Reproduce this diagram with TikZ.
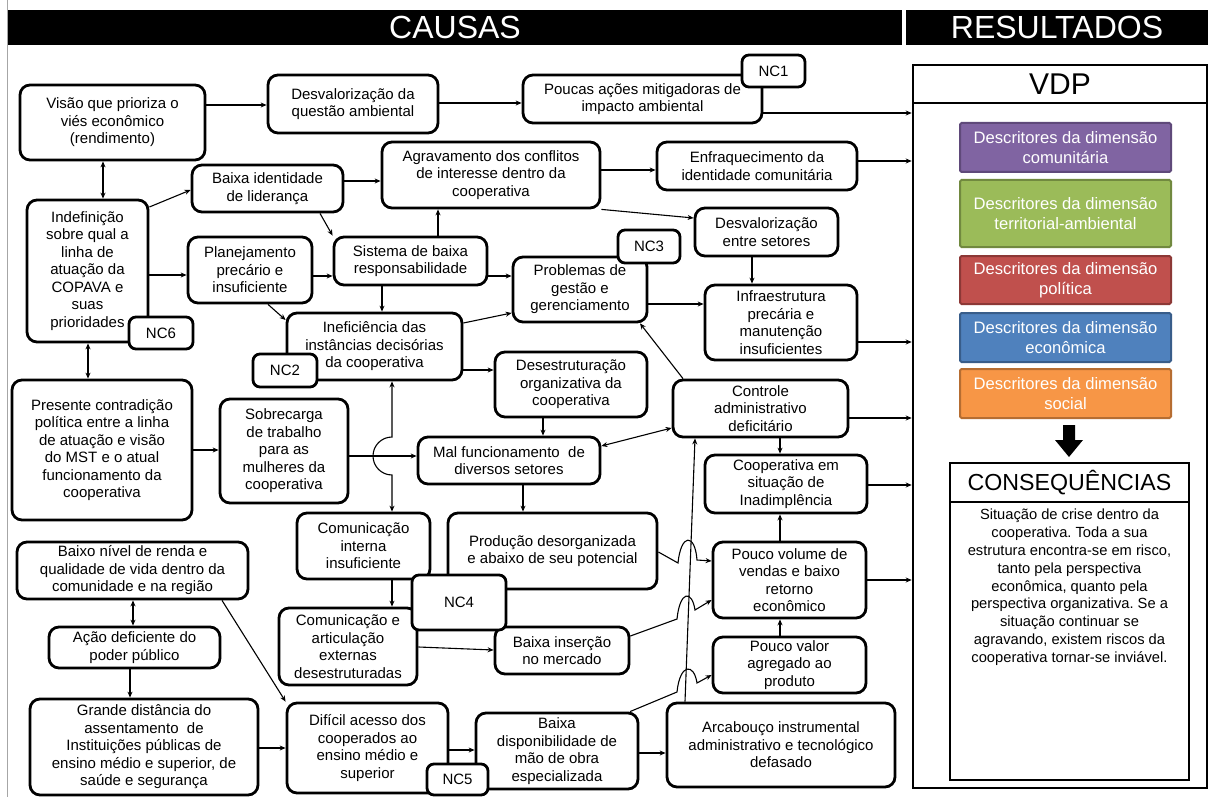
\documentclass[tikz,border=0pt]{standalone}
\usepackage{fontspec}
\setmainfont{Liberation Sans}
\usetikzlibrary{arrows.meta}
\frenchspacing
\newcommand\mybox[7][box]{\node[#1,minimum width={(#5-#3)*1pt},minimum height={(#6-#4)*1pt}] (#2) at ({(#3+#5)/2},{(#4+#6)/2}) {#7};}
\begin{document}
\begin{tikzpicture}[x=1pt,y=-1pt,
 box/.style={draw,line width=2.8pt,rounded corners=10pt,fill=white,align=center,inner sep=1pt,font=\fontsize{15}{17.5}\selectfont},
 ncbox/.style={box,rounded corners=7pt},
 desc/.style={draw,line width=2pt,rounded corners=1.5pt,align=center,inner sep=1pt,text=white,font=\fontsize{16.6}{20}\selectfont},
 plain/.style={draw,line width=2.6pt,fill=white,inner sep=0pt,align=center},
 banner/.style={fill=black,text=white,inner sep=0pt,font=\fontsize{32}{32}\selectfont},
 arr/.style={line width=1.1pt,-{Stealth[length=6pt,width=5pt]}},
 darr/.style={line width=1.1pt,{Stealth[length=6pt,width=5pt]}-{Stealth[length=6pt,width=5pt]}}]
\useasboundingbox (0,0) rectangle (1208,797);
\fill[white] (0,0) rectangle (1208,797);
\draw[gray!70,line width=1pt] (7,0) -- (7,797);
\mybox[banner]{causas}{8}{10}{902}{45}{CAUSAS}
\mybox[banner]{resultados}{906}{10}{1208}{45}{RESULTADOS}

% ---- cause boxes
\mybox{visao}{20}{85}{205}{160}{Visão que prioriza o\\viés econômico\\(rendimento)}
\mybox{desvamb}{268}{75}{438}{133}{Desvalorização da\\questão ambiental}
\mybox{poucas}{523}{75}{762}{123}{Poucas ações mitigadoras de\\impacto ambiental}
\mybox{agrav}{382}{142}{600}{208}{Agravamento dos conflitos\\de interesse dentro da\\cooperativa}
\mybox{enfraq}{657}{142}{857}{190}{Enfraquecimento da\\identidade comunitária}
\mybox{desvset}{695}{208}{838}{256}{Desvalorização\\entre setores}
\mybox{baixaid}{192}{165}{343}{212}{Baixa identidade\\de liderança}
\mybox{indef}{27}{200}{148}{342}{Indefinição\\sobre qual a\\linha de\\atuação da\\COPAVA e\\suas\\prioridades}
\mybox{planej}{188}{237}{312}{303}{Planejamento\\precário e\\insuficiente}
\mybox{sistema}{334}{237}{487}{285}{Sistema de baixa\\responsabilidade}
\mybox{ineff}{287}{313}{462}{380}{Ineficiência das\\instâncias decisórias\\da cooperativa}
\mybox{probl}{513}{257}{647}{322}{Problemas de\\gestão e\\gerenciamento}
\mybox{infra}{705}{285}{857}{360}{Infraestrutura\\precária e\\manutenção\\insuficientes}
\mybox{desestr}{495}{352}{647}{417}{Desestruturação\\organizativa da\\cooperativa}
\mybox{controle}{673}{380}{848}{437}{Controle\\administrativo\\deficitário}
\mybox{mal}{418}{437}{600}{484}{Mal funcionamento~ de\\diversos setores}
\mybox{inad}{705}{455}{867}{513}{Cooperativa em\\situação de\\Inadimplência}
\mybox{presente}{12}{380}{192}{520}{Presente contradição\\política entre a linha\\de atuação e visão\\do MST e o atual\\funcionamento da\\cooperativa}
\mybox{sobrec}{220}{399}{348}{503}{Sobrecarga\\de trabalho\\para as\\mulheres da\\cooperativa}
\mybox{comint}{297}{513}{430}{579}{Comunicação\\interna\\insuficiente}
\mybox{producao}{448}{513}{657}{589}{Produção desorganizada\\e abaixo de seu potencial}
\mybox{poucovol}{713}{542}{866}{618}{Pouco volume de\\vendas e baixo\\retorno\\econômico}
\mybox{baixoniv}{17}{542}{248}{599}{Baixo nível de renda e\\qualidade de vida dentro da\\comunidade e na região}
\mybox{acao}{49}{627}{220}{668}{Ação deficiente do\\poder público}
\mybox{comext}{279}{608}{417}{685}{Comunicação e\\articulação\\externas\\desestruturadas}
\mybox{baixains}{495}{627}{629}{674}{Baixa inserção\\no mercado}
\mybox{poucoval}{713}{637}{866}{693}{Pouco valor\\agregado ao\\produto}
\mybox{grande}{30}{699}{258}{795}{Grande distância do\\assentamento~ de\\Instituições públicas de\\ensino médio e superior, de\\saúde e segurança}
\mybox{dificil}{287}{703}{448}{793}{Difícil acesso dos\\cooperados ao\\ensino médio e\\superior}
\mybox{baixadisp}{476}{713}{638}{789}{Baixa\\disponibilidade de\\mão de obra\\especializada}
\mybox{arcab}{667}{703}{895}{787}{Arcabouço instrumental\\administrativo e tecnológico\\defasado}

% ---- results side
\mybox[plain]{vdphead}{913}{65}{1207}{103}{\fontsize{30}{30}\selectfont VDP}
\mybox[plain]{vdp}{913}{103}{1207}{788}{}
\mybox[desc,fill={rgb,255:red,128;green,100;blue,162},draw={rgb,255:red,95;green,73;blue,122}]{d1}{960}{123}{1171}{172}{Descritores da dimensão\\comunitária}
\mybox[desc,fill={rgb,255:red,155;green,187;blue,89},draw={rgb,255:red,113;green,137;blue,63}]{d2}{960}{180}{1171}{247}{Descritores da dimensão\\territorial-ambiental}
\mybox[desc,fill={rgb,255:red,192;green,80;blue,77},draw={rgb,255:red,140;green,56;blue,54}]{d3}{960}{256}{1171}{304}{Descritores da dimensão\\política}
\mybox[desc,fill={rgb,255:red,79;green,129;blue,189},draw={rgb,255:red,56;green,93;blue,138}]{d4}{960}{313}{1171}{362}{Descritores da dimensão\\econômica}
\mybox[desc,fill={rgb,255:red,247;green,150;blue,70},draw={rgb,255:red,182;green,109;blue,49}]{d5}{960}{369}{1171}{418}{Descritores da dimensão\\social}
\fill (1063,425) -- (1075,425) -- (1075,440) -- (1083,440) -- (1069,457) -- (1055,440) -- (1063,440) -- cycle;
\mybox[plain]{conshead}{950}{463}{1189}{502}{\fontsize{23.2}{24}\selectfont CONSEQUÊNCIAS}
\mybox[plain]{consbody}{950}{502}{1189}{780}{}
\node[anchor=north,align=center,inner sep=0pt,font=\fontsize{14.7}{17.8}\selectfont] (constext) at (1069.5,509) {Situação de crise dentro da\\cooperativa. Toda a sua\\estrutura encontra-se em risco,\\tanto pela perspectiva\\econômica, quanto pela\\perspectiva organizativa. Se a\\situação continuar se\\agravando, existem riscos da\\cooperativa tornar-se inviável.};

% ---- connectors
\draw[darr] (103,0 |- visao.south) -- (103,0 |- indef.north);
\draw[arr] (visao.east |- 0,105) -- (desvamb.west |- 0,105);
\draw[arr] (desvamb.east |- 0,103) -- (poucas.west |- 0,103);
\draw[arr] (indef.east |- 0,207) -- (baixaid.west |- 0,190);
\draw[arr] (baixaid.east |- 0,181) -- (agrav.west |- 0,181);
\draw[arr] (320,0 |- baixaid.south) -- (sistema.north west);
\draw[arr] (indef.east |- 0,275) -- (planej.west |- 0,275);
\draw[arr] (planej.east |- 0,276) -- (sistema.west |- 0,276);
\draw[arr] (268,0 |- planej.south) -- (ineff.west |- 0,320);
\draw[arr] (382,0 |- sistema.south) -- (382,0 |- ineff.north);
\draw[arr] (438,0 |- sistema.north) -- (438,0 |- agrav.south);
\draw[arr] (sistema.east |- 0,276) -- (probl.west |- 0,276);
\draw[arr] (ineff.east |- 0,323) -- (probl.west |- 0,313);
\draw[arr] (agrav.south east) -- (desvset.west |- 0,218);
\draw[arr] (agrav.east |- 0,170) -- (enfraq.west |- 0,170);
\draw[arr] (752,0 |- desvset.south) -- (752,0 |- infra.north);
\draw[arr] (probl.east |- 0,304) -- (infra.west |- 0,304);
\draw[arr] (683,0 |- controle.north) -- (640,0 |- probl.south);
\draw[arr] (ineff.east |- 0,370) -- (desestr.west |- 0,370);
\draw[arr] (543,0 |- desestr.south) -- (543,0 |- mal.north);
\draw[darr] (controle.west |- 0,428) -- (mal.east |- 0,446);
\draw[arr] (523,0 |- mal.south) -- (523,0 |- producao.north);
\draw[arr] (780,0 |- controle.south) -- (780,0 |- inad.north);
\draw[arr] (780,0 |- poucovol.north) -- (780,0 |- inad.south);
\draw[arr] (780,0 |- poucoval.north) -- (780,0 |- poucovol.south);
\draw[arr] (presente.east |- 0,450) -- (sobrec.west |- 0,450);
\draw[darr] (88,0 |- indef.south) -- (88,0 |- presente.north);
\draw[arr] (sobrec.east |- 0,456) -- (mal.west |- 0,456);
\draw[darr] (392,0 |- ineff.south) -- (392,437) arc[start angle=90,end angle=270,radius=19pt] -- (392,0 |- comint.north);
\draw[arr] (392,0 |- comint.south) -- (392,0 |- comext.north);
\draw[arr] (comext.east |- 0,647) -- (baixains.west |- 0,650);
\draw[arr] (baixains.east |- 0,636) -- (677,619) .. controls (680,590) and (692,590) .. (695,610) -- (poucovol.west |- 0,600);
\draw[arr] (producao.east |- 0,552) -- (678,563) .. controls (681,533) and (695,533) .. (697,560) -- (poucovol.west |- 0,561);
\draw[arr] (630,0 |- baixadisp.north) -- (677,692) .. controls (680,663) and (694,663) .. (697,683) -- (poucoval.west |- 0,675);
\draw[arr] (685,0 |- arcab.north) -- (695,0 |- controle.south);
\draw[arr] (baixadisp.east |- 0,753) -- (arcab.west |- 0,753);
\draw[arr] (dificil.east |- 0,750) -- (baixadisp.west |- 0,750);
\draw[arr] (grande.east |- 0,748) -- (dificil.west |- 0,748);
\draw[arr] (222,0 |- baixoniv.south) -- (dificil.north west);
\draw[darr] (133,0 |- baixoniv.south) -- (133,0 |- acao.north);
\draw[arr] (130,0 |- acao.south) -- (130,0 |- grande.north);
% to VDP
\draw[arr] (poucas.east |- 0,113) -- (vdp.west |- 0,113);
\draw[arr] (enfraq.east |- 0,161) -- (vdp.west |- 0,161);
\draw[arr] (infra.east |- 0,342) -- (vdp.west |- 0,342);
\draw[arr] (controle.east |- 0,418) -- (vdp.west |- 0,418);
\draw[arr] (inad.east |- 0,485) -- (vdp.west |- 0,485);
\draw[arr] (poucovol.east |- 0,580) -- (vdp.west |- 0,580);

% ---- NC badges
\mybox[ncbox]{nc1}{742}{55}{805}{87}{NC1}
\mybox[ncbox]{nc6}{129}{317}{193}{349}{NC6}
\mybox[ncbox]{nc2}{253}{354}{317}{387}{NC2}
\mybox[ncbox]{nc3}{618}{230}{680}{263}{NC3}
\mybox[ncbox]{nc4}{412}{575}{506}{630}{NC4}
\mybox[ncbox]{nc5}{427}{764}{488}{795}{NC5}
\end{tikzpicture}
\end{document}
